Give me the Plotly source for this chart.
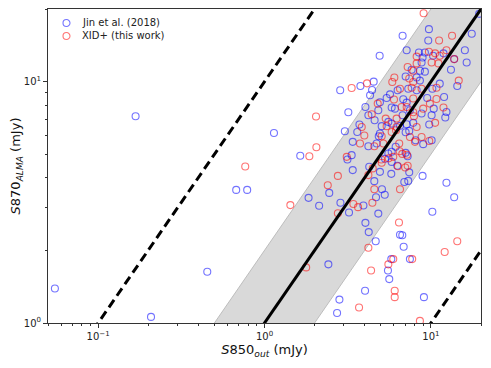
"""
S870 ALMA vs S850 deblended flux comparison
"""

import numpy as np
import plotly.graph_objects as go

# Jin et al. (2018) -- S850_out, S870_ALMA (mJy)
jin_x = [9.73, 6.76, 9.64, 17.6, 19.5, 7.15, 8.47, 9.20, 16.0, 4.92, 8.91, 10.3, 11.9, 13.8,
         16.4, 8.79, 13.2, 7.66, 9.20, 8.59, 7.05, 8.21, 8.59, 11.3, 14.4, 10.2, 6.31, 7.31,
         8.21, 5.68, 5.42, 6.82, 7.15, 9.50, 12.0, 4.31, 4.94, 5.81, 7.48, 8.79, 10.4, 12.4,
         12.2, 10.1, 6.76, 6.08, 4.04, 4.83, 4.21, 4.59, 5.55, 3.72, 5.06, 5.81, 6.52, 7.15,
         7.83, 9.77, 3.61, 4.94, 4.86, 7.05, 7.41, 3.39, 4.21, 4.72, 6.14, 5.81, 5.55, 7.05,
         8.09, 8.99, 10.1, 7.25, 5.30, 3.34, 3.15, 5.81, 6.28, 3.39, 4.26, 4.94, 7.41, 5.78,
         8.91,
         2.85, 3.77, 4.53, 4.43, 3.19, 3.04, 1.14, 1.64, 1.84, 2.45, 0.787, 0.676, 0.453,
         0.168, 0.055, 0.208,
         4.57, 5.08, 5.28, 4.68, 3.93, 2.86, 3.22, 4.83, 2.13, 4.04, 4.23, 4.66, 2.42, 2.82,
         2.73, 4.02, 5.52, 5.62, 5.78, 7.48, 6.86, 6.52, 6.73, 9.08, 10.2, 12.4, 13.8, 6.92,
         7.31]
jin_y = [16.5, 15.5, 14.8, 15.8, 19.1, 13.5, 13.2, 13.2, 13.5, 12.8, 12.6, 12.8, 13.1, 12.4,
         12.0, 12.0, 11.2, 11.2, 11.0, 11.1, 10.5, 10.4, 10.1, 9.81, 9.59, 9.35, 9.21, 9.35,
         9.21, 8.86, 8.55, 8.45, 8.19, 8.55, 8.64, 8.78, 8.21, 7.81, 7.61, 7.38, 7.73, 7.49,
         7.10, 7.26, 7.26, 7.73, 7.85, 7.61, 7.26, 6.92, 6.81, 6.64, 6.54, 6.70, 6.56, 6.66,
         6.75, 6.64, 6.19, 6.10, 5.94, 6.17, 6.25, 5.63, 5.40, 5.54, 5.37, 5.12, 5.04, 5.07,
         5.72, 5.51, 5.72, 4.91, 4.79, 4.96, 4.76, 4.65, 4.48, 4.30, 4.44, 4.23, 4.21, 4.15,
         4.07,
         9.21, 9.59, 10.0, 9.23, 7.47, 6.23, 6.13, 4.93, 3.30, 3.46, 3.56, 3.56, 1.63,
         7.19, 1.39, 1.06,
         3.87, 3.58, 3.40, 3.32, 3.07, 3.15, 2.87, 2.84, 3.06, 2.60, 2.38, 2.18, 1.75, 1.25,
         1.10, 1.36, 1.65, 1.52, 1.84, 1.84, 2.07, 2.32, 2.31, 1.28, 2.89, 3.81, 3.32, 3.84,
         3.88]

# XID+ (this work)
xid_x = [9.04, 13.4, 11.2, 12.4, 9.73, 10.6, 8.21, 11.3, 8.21, 10.1, 11.1, 7.25, 7.83, 6.03,
         7.41, 7.83, 5.86, 14.7, 10.8, 6.52, 7.66, 8.79, 6.00, 7.83, 10.8, 4.79, 6.67, 7.15,
         7.83, 8.99, 9.86, 11.9, 7.91, 4.41, 5.35, 6.22, 3.84, 5.42, 6.22, 8.21, 10.6, 3.98,
         5.06, 5.81, 6.17, 7.48, 3.75, 4.57, 5.18, 6.45, 6.49, 6.73, 8.02, 8.79, 9.77, 5.94,
         5.03, 3.12, 7.25, 5.06, 4.47, 4.21, 2.76, 13.8,
         3.34, 4.13, 2.04, 2.05, 1.86, 2.40, 0.766,
         4.57, 4.45, 3.65, 3.42, 2.76, 1.43, 4.21, 1.78, 3.70, 4.37, 5.55, 5.94, 7.72, 6.43,
         6.06, 6.06, 8.59, 12.1, 14.4, 6.52, 7.01, 6.34, 5.57, 7.18]
xid_y = [19.2, 15.5, 14.8, 13.5, 13.3, 13.1, 12.7, 12.8, 11.9, 12.0, 11.9, 11.5, 11.1, 10.4,
         10.3, 9.96, 9.96, 10.1, 9.44, 9.35, 9.44, 9.35, 8.43, 8.51, 8.47, 8.11, 7.85, 7.85,
         7.47, 7.73, 8.11, 7.81, 7.19, 7.33, 7.03, 7.03, 6.49, 6.54, 6.49, 6.49, 6.75, 5.98,
         5.94, 6.19, 6.29, 5.90, 5.54, 5.40, 5.54, 5.54, 5.15, 5.02, 5.63, 5.90, 5.68, 4.88,
         4.76, 4.88, 4.48, 4.61, 4.37, 4.10, 4.07, 12.4,
         9.41, 9.84, 7.17, 5.35, 4.91, 3.72, 4.45,
         3.58, 3.15, 3.02, 3.11, 2.85, 3.08, 2.05, 1.70, 1.16, 1.65, 1.75, 1.84, 1.84, 2.61,
         1.36, 1.28, 1.02, 1.97, 2.18, 3.58, 4.41, 4.46, 4.81, 4.98]

series_names = ['Jin et al. (2018)', 'XID+ (this work)']
series_colors = ['rgba(0,0,255,0.55)', 'rgba(255,0,0,0.55)']

x_range = [0.05, 20]
y_range = [1, 20]

fig = go.Figure()

# factor-of-2 band around the 1:1 line
xl = np.array([0.02, 50])
fig.add_trace(go.Scatter(
    x=np.concatenate([xl, xl[::-1]]),
    y=np.concatenate([xl / 2, xl[::-1] * 2]),
    fill='toself', fillcolor='#d9d9d9',
    line=dict(color='#bdbdbd', width=1),
    mode='lines', hoverinfo='skip', showlegend=False
))

for xs, ys, name, col in zip([jin_x, xid_x], [jin_y, xid_y], series_names, series_colors):
    fig.add_trace(go.Scatter(
        x=xs, y=ys, mode='markers', name=name, showlegend=False,
        marker=dict(symbol='circle-open', size=7, color=col, line=dict(width=1.1))
    ))

# 1:1 and factor-of-10 lines
for k, dash in [(1, 'solid'), (10, '9px,5px'), (0.1, '9px,5px')]:
    fig.add_trace(go.Scatter(
        x=xl, y=xl * k, mode='lines',
        line=dict(color='black', width=3, dash=dash),
        hoverinfo='skip', showlegend=False
    ))

# legend drawn by hand so the row spacing matches the original (matplotlib-like)
for i, (name, col) in enumerate(zip(series_names, series_colors)):
    yoff = -14 - 13 * i
    fig.add_shape(
        type='circle', xref='paper', yref='paper',
        xsizemode='pixel', ysizemode='pixel', xanchor=0, yanchor=1,
        x0=15, x1=22, y0=yoff - 3.5, y1=yoff + 3.5,
        line=dict(color=col, width=1.1), fillcolor='rgba(0,0,0,0)'
    )
    fig.add_annotation(
        xref='paper', yref='paper', x=0.074, y=1 + yoff / 314,
        text=name, showarrow=False, xanchor='left', yanchor='middle',
        font=dict(family='DejaVu Sans', size=10, color='#222')
    )

axis_common = dict(
    type='log', showgrid=False, zeroline=False, automargin=False,
    showline=True, linecolor='#333', linewidth=1, mirror=True,
    ticks='outside', ticklen=4, tickcolor='#333',
    tickfont=dict(family='DejaVu Sans', size=10, color='#222'),
)

minor_x = [m * 10.0 ** e for e in (-2, -1, 0, 1) for m in range(2, 10)]
minor_y = [m * 10.0 ** e for e in (0, 1) for m in range(2, 10)]

fig.update_xaxes(
    **axis_common,
    range=[np.log10(x_range[0]), np.log10(x_range[1])],
    tickvals=[0.1, 1, 10],
    ticktext=['10<sup>−1</sup>', '10<sup>0</sup>', '10<sup>1</sup>'],
    minor=dict(ticks='outside', ticklen=2, tickcolor='#333', tickmode='array', tickvals=minor_x),
    title=dict(text='<i>S</i>850<sub><i>out</i></sub> (mJy)', standoff=1,
               font=dict(family='DejaVu Sans', size=13, color='#111')),
)
fig.update_yaxes(
    **axis_common,
    range=[np.log10(y_range[0]), np.log10(y_range[1])],
    tickvals=[1, 10],
    ticktext=['10<sup>0</sup>', '10<sup>1</sup>'],
    minor=dict(ticks='outside', ticklen=2, tickcolor='#333', tickmode='array', tickvals=minor_y),
    title=dict(text='<i>S</i>870<sub><i>ALMA</i></sub> (mJy)', standoff=4,
               font=dict(family='DejaVu Sans', size=13, color='#111')),
)

# page body adds an 8px offset, so the figure is made smaller to compensate
fig.update_layout(
    width=483, height=360,
    margin=dict(l=40, r=10, t=1, b=45),
    plot_bgcolor='white', paper_bgcolor='white',
    showlegend=False,
)

fig.write_html("out.html")
